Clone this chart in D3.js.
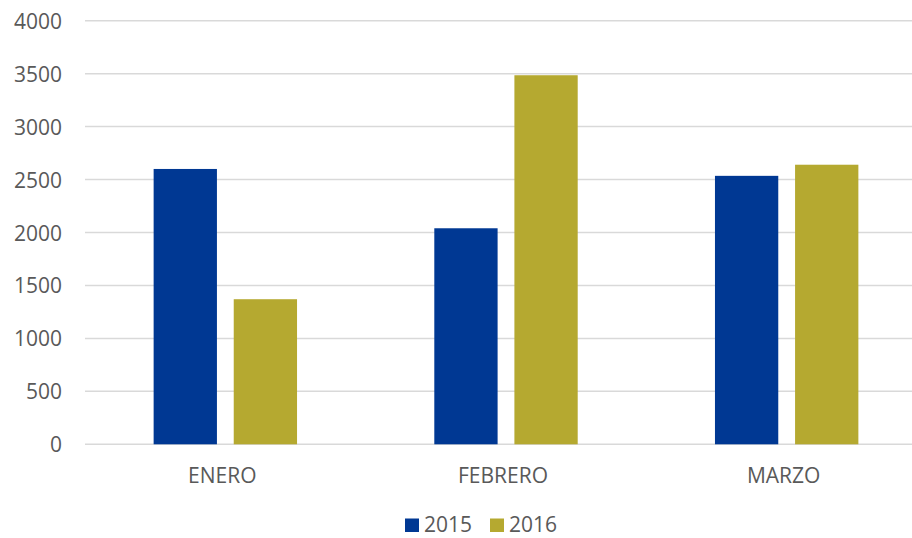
<!DOCTYPE html>
<html>
<head>
<meta charset="utf-8">
<script src="https://cdn.jsdelivr.net/npm/d3@7/dist/d3.min.js"></script>
<style>
  html, body { margin: 0; padding: 0; background: #fff; }
  svg { display: block; }
  text { font-family: "Open Sans", sans-serif; fill: #595959; }
</style>
</head>
<body>
<svg id="chart" width="912" height="538"></svg>
<script>
const categories = ["ENERO", "FEBRERO", "MARZO"];
const seriesNames = ["2015", "2016"];
const values2015 = [2600, 2040, 2535];
const values2016 = [1370, 3485, 2640];
const yTicks = [0, 500, 1000, 1500, 2000, 2500, 3000, 3500, 4000];
const colors = ["#003893", "#b5a930"];

(function () {
const svg = d3.select("#chart");
const W = 912;
const plotLeft = 85, plotRight = 927, plotTop = 20.7, plotBottom = 444.3;

const x = d3.scaleBand().domain(categories).range([plotLeft, plotRight]);
const y = d3.scaleLinear().domain([0, 4000]).range([plotBottom, plotTop]);

const groupW = 143.4, barW = 63.3, gap = groupW - 2 * barW;
const sub = d3.scaleOrdinal().domain(seriesNames).range([0, barW + gap]);

// gridlines
svg.append("g").selectAll("line").data(yTicks).join("line")
  .attr("x1", plotLeft).attr("x2", W)
  .attr("y1", d => y(d)).attr("y2", d => y(d))
  .attr("stroke", "#d9d9d9").attr("stroke-width", 1.5);

// y labels
svg.append("g").selectAll("text").data(yTicks).join("text")
  .attr("x", 62).attr("y", d => y(d))
  .attr("text-anchor", "end").attr("dominant-baseline", "central")
  .attr("font-size", 21)
  .text(d => d);

const data = categories.map((c, i) => ({ c, vals: [values2015[i], values2016[i]] }));

const groups = svg.append("g").selectAll("g").data(data).join("g")
  .attr("transform", d => `translate(${x(d.c) + x.bandwidth() / 2 - groupW / 2},0)`);

groups.selectAll("rect").data(d => d.vals.map((v, j) => ({ v, s: seriesNames[j], j }))).join("rect")
  .attr("x", d => sub(d.s))
  .attr("width", barW)
  .attr("y", d => y(d.v))
  .attr("height", d => y(0) - y(d.v))
  .attr("fill", d => colors[d.j]);

// category labels
svg.append("g").selectAll("text").data(categories).join("text")
  .attr("x", d => x(d) + x.bandwidth() / 2 - 3)
  .attr("y", 483)
  .attr("text-anchor", "middle")
  .attr("font-size", 21)
  .text(d => d);

// legend
const legendX = [405, 490];
const lg = svg.append("g").selectAll("g").data(seriesNames).join("g")
  .attr("transform", (d, i) => `translate(${legendX[i]},0)`);
lg.append("rect").attr("x", 0).attr("y", 518.5).attr("width", 14).attr("height", 13.5)
  .attr("fill", (d, i) => colors[i]);
lg.append("text").attr("x", 19).attr("y", 532).attr("font-size", 21).text(d => d);
})();
</script>
</body>
</html>
